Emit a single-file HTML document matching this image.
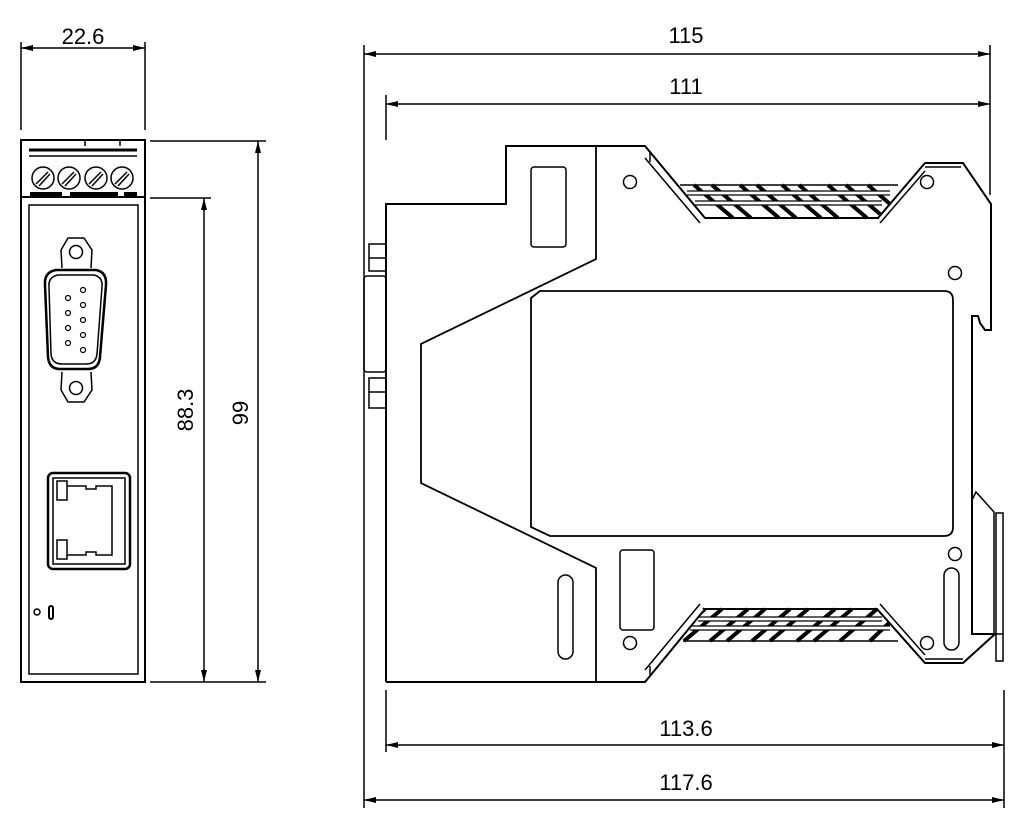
<!DOCTYPE html>
<html><head><style>html,body{margin:0;padding:0;background:#fff}svg{display:block}</style></head>
<body>
<svg width="1024" height="827" viewBox="0 0 1024 827" xmlns="http://www.w3.org/2000/svg" font-family="Liberation Sans, sans-serif">
<defs>
<marker id="a" viewBox="0 0 12 6" refX="12" refY="3" markerWidth="12" markerHeight="6" orient="auto-start-reverse" markerUnits="userSpaceOnUse"><path d="M0,0 L12,3 L0,6z" fill="#000"/></marker>
</defs>
<g stroke="#000" fill="none" stroke-width="1.5">
<!-- LEFT VIEW -->
<line x1="21" y1="42" x2="21" y2="130"/><line x1="145" y1="42" x2="145" y2="130"/>
<line x1="21" y1="48" x2="145" y2="48" marker-start="url(#a)" marker-end="url(#a)"/>
<rect x="21" y="140" width="124" height="542" stroke-width="2"/>
<line x1="21" y1="197" x2="145" y2="197" stroke-width="2"/>
<rect x="29" y="205" width="109" height="469"/>
<line x1="29" y1="150" x2="137" y2="150" stroke-width="3"/>
<line x1="29" y1="156" x2="137" y2="156"/>
<line x1="85" y1="140" x2="85" y2="146"/><line x1="120" y1="140" x2="120" y2="146"/>
<line x1="30" y1="194" x2="62" y2="194" stroke-width="4"/><line x1="70" y1="194" x2="118" y2="194" stroke-width="4"/><line x1="124" y1="194" x2="137" y2="194" stroke-width="4"/>
<g>
<circle cx="43" cy="178" r="11"/><line x1="36" y1="184" x2="48" y2="172"/><line x1="39" y1="186" x2="50" y2="174"/>
<circle cx="69" cy="178" r="11"/><line x1="62" y1="184" x2="74" y2="172"/><line x1="65" y1="186" x2="76" y2="174"/>
<circle cx="96" cy="178" r="11"/><line x1="89" y1="184" x2="101" y2="172"/><line x1="92" y1="186" x2="103" y2="174"/>
<circle cx="122" cy="178" r="11"/><line x1="115" y1="184" x2="127" y2="172"/><line x1="118" y1="186" x2="129" y2="174"/>
</g>
<!-- DSUB -->
<path d="M62,268 L61,250 L68,238 L84,238 L92,250 L91,268"/>
<circle cx="76" cy="252" r="6.5"/>
<path d="M62,372 L61,390 L68,402 L84,402 L92,390 L91,372"/>
<circle cx="76" cy="388" r="6.5"/>
<path d="M56,270 L96,270 Q107,272 106,285 L100,357 Q99,369 88,369 L60,369 Q49,369 48,357 L45,285 Q44,272 56,270z" stroke-width="2.5" fill="#fff"/>
<path d="M58,275 L94,275 Q103,277 102,287 L97,354 Q96,364 86,364 L62,364 Q52,364 51,354 L49,287 Q48,277 58,275z"/>
<g stroke-width="1.2"><circle cx="68" cy="298" r="2.5"/><circle cx="68" cy="313" r="2.5"/><circle cx="68" cy="328" r="2.5"/><circle cx="68" cy="343" r="2.5"/>
<circle cx="83" cy="290" r="2.5"/><circle cx="83" cy="305" r="2.5"/><circle cx="83" cy="320" r="2.5"/><circle cx="83" cy="335" r="2.5"/><circle cx="83" cy="350" r="2.5"/></g>
<!-- RJ45 -->
<rect x="48" y="473" width="82" height="96" rx="5" stroke-width="2.5"/>
<rect x="53" y="478" width="72" height="86"/>
<rect x="57" y="481" width="10" height="19"/><rect x="57" y="540" width="10" height="19"/>
<path d="M67,486 L86,486 L86,489 L96,489 L96,486 L112,486 L112,555 L96,555 L96,552 L86,552 L86,555 L67,555"/>
<circle cx="37" cy="612" r="3"/>
<rect x="49" y="606" width="4" height="13" rx="2" stroke-width="2"/>
<!-- left dims -->
<line x1="150" y1="141" x2="266" y2="141"/><line x1="150" y1="682" x2="266" y2="682"/>
<line x1="150" y1="198" x2="211" y2="198"/>
<line x1="258" y1="141" x2="258" y2="682" marker-start="url(#a)" marker-end="url(#a)"/>
<line x1="204" y1="198" x2="204" y2="682" marker-start="url(#a)" marker-end="url(#a)"/>

<!-- RIGHT VIEW dims -->
<line x1="364" y1="45" x2="364" y2="808"/>
<line x1="990" y1="45" x2="990" y2="195"/>
<line x1="386" y1="95" x2="386" y2="140"/><line x1="386" y1="690" x2="386" y2="752"/>
<line x1="1004" y1="690" x2="1004" y2="808"/>
<line x1="364" y1="54" x2="990" y2="54" marker-start="url(#a)" marker-end="url(#a)"/>
<line x1="386" y1="104" x2="990" y2="104" marker-start="url(#a)" marker-end="url(#a)"/>
<line x1="386" y1="745" x2="1004" y2="745" marker-start="url(#a)" marker-end="url(#a)"/>
<line x1="364" y1="800" x2="1004" y2="800" marker-start="url(#a)" marker-end="url(#a)"/>

<!-- hatching top (under body lines) -->
<g stroke-width="4">
<line x1="694" y1="185" x2="733" y2="218"/><line x1="712" y1="185" x2="751" y2="218"/><line x1="740" y1="185" x2="779" y2="218"/><line x1="757" y1="185" x2="796" y2="218"/>
<line x1="782" y1="185" x2="821" y2="218"/><line x1="799" y1="185" x2="838" y2="218"/><line x1="828" y1="185" x2="867" y2="218"/><line x1="846" y1="185" x2="880" y2="214"/><line x1="868" y1="185" x2="890" y2="204"/>
</g>
<g stroke-width="4">
<line x1="705" y1="609" x2="668" y2="641"/><line x1="722" y1="609" x2="684" y2="641"/><line x1="748" y1="609" x2="710" y2="641"/><line x1="765" y1="609" x2="727" y2="641"/>
<line x1="790" y1="609" x2="752" y2="641"/><line x1="808" y1="609" x2="770" y2="641"/><line x1="835" y1="609" x2="797" y2="641"/><line x1="852" y1="609" x2="814" y2="641"/><line x1="877" y1="609" x2="840" y2="641"/><line x1="890" y1="622" x2="870" y2="641"/>
</g>
<g stroke-width="1.5" stroke="#000">
<line x1="680" y1="185" x2="898" y2="185"/>
<line x1="683" y1="641" x2="898" y2="641"/>
</g>
<g stroke-width="3" stroke="#fff">
<line x1="687" y1="193" x2="890" y2="193"/><line x1="695" y1="203" x2="882" y2="203"/>
<line x1="690" y1="628" x2="890" y2="628"/><line x1="698" y1="619" x2="882" y2="619"/>
</g>
<g stroke-width="1.2">
<line x1="687" y1="191" x2="890" y2="191"/><line x1="687" y1="195" x2="890" y2="195"/>
<line x1="695" y1="201" x2="882" y2="201"/><line x1="695" y1="205" x2="882" y2="205"/>
<line x1="690" y1="626" x2="890" y2="626"/><line x1="690" y1="630" x2="890" y2="630"/>
<line x1="698" y1="617" x2="882" y2="617"/><line x1="698" y1="621" x2="882" y2="621"/>
</g>
<!-- mask outside hatch regions -->
<path d="M650,150 L705,218 L650,218z" fill="#fff" stroke="none"/>
<path d="M925,160 L878,218 L925,218z" fill="#fff" stroke="none"/>
<path d="M650,676 L705,609 L650,609z" fill="#fff" stroke="none"/>
<path d="M925,666 L877,609 L925,609z" fill="#fff" stroke="none"/>

<!-- body -->
<path d="M386,682 L386,204 L506,204 L506,146 L645,146 L650,152 L705,218 L878,218 L925,163 L963,163 L991,204 L991,330 L985,330 L980,323 L978,316 L972,316 L972,510" stroke-width="2"/>
<path d="M386,682 L645,682 L650,676 L705,609 L877,609 L925,663 L963,663 L995,634 L972,634 L972,500" stroke-width="2"/>
<path d="M972,500 L976,492 L994,512 L994,634" stroke-width="1.5"/>
<rect x="996" y="513" width="7" height="148"/>
<line x1="996" y1="634" x2="1003" y2="634"/>
<path d="M596,146 L596,259 L421,344 L421,483 L596,568 L596,682" stroke-width="1.8"/>
<line x1="650" y1="152" x2="650" y2="162"/><line x1="650" y1="676" x2="650" y2="666"/>
<path d="M645,158 L700,223"/>
<path d="M925,171 L880,223"/>
<path d="M645,670 L700,604"/>
<path d="M925,655 L880,604"/>
<line x1="925" y1="167" x2="961" y2="167"/><line x1="925" y1="659" x2="963" y2="659"/>
<rect x="531" y="167" width="35" height="80" rx="3"/>
<rect x="620" y="550" width="34" height="80" rx="3"/>
<rect x="558" y="575" width="15" height="84" rx="7.5"/>
<rect x="944" y="568" width="15" height="82" rx="7.5"/>
<path d="M540,291 L944,291 Q953,291 953,300 L953,527 Q953,536 944,536 L550,536 L531,527 L531,298 Z" stroke-width="1.8"/>
<circle cx="630" cy="182" r="6.5"/><circle cx="927" cy="182" r="6.5"/><circle cx="955" cy="273" r="6.5"/>
<circle cx="955" cy="554" r="6.5"/><circle cx="630" cy="643" r="6.5"/><circle cx="927" cy="643" r="6.5"/>
<!-- left connector stubs -->
<rect x="369" y="244" width="17" height="27"/><line x1="369" y1="258" x2="386" y2="258"/>
<rect x="364" y="276" width="22" height="96" rx="3"/>
<rect x="369" y="378" width="17" height="30"/><line x1="369" y1="392" x2="386" y2="392"/>
</g>
<g font-size="22" text-anchor="middle" fill="#000">
<text x="83" y="44">22.6</text>
<text x="686" y="43">115</text>
<text x="686" y="94">111</text>
<text x="686" y="736">113.6</text>
<text x="686" y="790">117.6</text>
<text transform="translate(193,410) rotate(-90)">88.3</text>
<text transform="translate(248,413) rotate(-90)">99</text>
</g>
</svg>
</body></html>
